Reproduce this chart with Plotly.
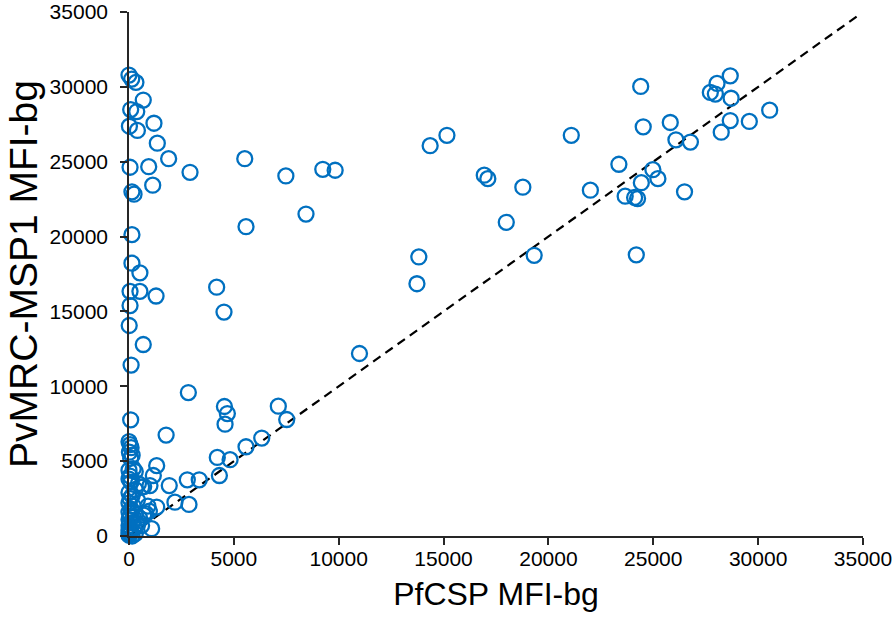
import plotly.graph_objects as go

# PfCSP MFI-bg (x) and PvMRC-MSP1 MFI-bg (y)
pf_upper_left = [0, 130, 330, 680, 80, 370, 1190, 20, 400, 1350, 1890, 5520, 50, 940, 2910,
                 7480, 1130, 140, 240, 8440, 5580, 140, 140, 520, 4180, 50, 520, 1290, 4530,
                 50, 10, 680, 100]
pv_upper_left = [30790, 30520, 30300, 29120, 28480, 28350, 27570, 27370, 27090, 26240, 25200,
                 25200, 24630, 24670, 24290, 24050, 23430, 22990, 22830, 21500, 20660, 20130,
                 18220, 17580, 16620, 16340, 16340, 16030, 14960, 15390, 14060, 12790, 11420]

pf_middle = [9240, 9830, 14360, 15160, 16940, 17110, 18780, 17990, 21090, 13820, 13730, 19320, 10990]
pv_middle = [24490, 24430, 26070, 26760, 24100, 23870, 23300, 20950, 26760, 18640, 16850, 18750, 12190]

pf_upper_right = [24400, 28670, 28040, 27720, 27960, 28710, 24520, 25810, 28670, 29580, 30550,
                  28240, 26080, 26770, 23360, 24980, 25220, 24430, 22000, 23660, 24110, 24250,
                  26490, 24190]
pv_upper_right = [30030, 30740, 30230, 29630, 29520, 29240, 27330, 27620, 27750, 27690, 28440,
                  26970, 26460, 26310, 24830, 24470, 23870, 23600, 23100, 22700, 22610, 22540,
                  22990, 18780]

pf_lower = [2830, 4550, 4690, 4580, 7120, 7520, 80, 1770, 6330, 5580, 4210, 4820, 4310, 2780,
            3350, 1920, 2190, 2860, 1320, 1160, 1000, 600, 1320, 970, 1080]
pv_lower = [9580, 8650, 8180, 7470, 8670, 7780, 7760, 6740, 6540, 5960, 5250, 5100, 4040, 3750,
            3750, 3370, 2260, 2110, 4700, 4040, 3370, 3260, 1930, 1660, 490]

pf_origin = [0, 50, 100, 20, 150, 80, 0, 200, 300, 50, 0, 100, 450, 700, 300, 0, 150, 50, 400,
             0, 200, 100, 0, 300, 700, 50, 0, 150, 400, 0, 250, 50, 0, 100, 0, 300, 50, 0, 150,
             600, 800, 900, 500, 200]
pv_origin = [6300, 6100, 5900, 5600, 5400, 5200, 4400, 4500, 4300, 4000, 3800, 3600, 3500, 3300,
             3100, 2900, 2700, 2500, 2400, 2200, 2000, 1800, 1600, 1500, 1400, 1300, 1100, 900,
             800, 700, 600, 500, 400, 300, 200, 150, 100, 50, 0, 700, 1500, 2000, 1200, 1300]

pfcsp = pf_upper_left + pf_middle + pf_upper_right + pf_lower + pf_origin
pvmsp1 = pv_upper_left + pv_middle + pv_upper_right + pv_lower + pv_origin

line_x = [0, 34700]
line_y = [0, 34700]

axis_ticks = [0, 5000, 10000, 15000, 20000, 25000, 30000, 35000]
axis_range = [0, 35000]

font_family = "Arial, Liberation Sans, sans-serif"

fig = go.Figure()
fig.add_trace(go.Scatter(
    x=line_x, y=line_y, mode="lines",
    line=dict(color="black", width=2.2, dash="9px,6px"),
    hoverinfo="skip", showlegend=False, cliponaxis=False,
))
fig.add_trace(go.Scatter(
    x=pfcsp, y=pvmsp1, mode="markers",
    marker=dict(symbol="circle-open", size=15, color="#0070C0",
                line=dict(width=2.3, color="#0070C0")),
    showlegend=False, cliponaxis=False,
))

axis_common = dict(
    range=axis_range, tickvals=axis_ticks, ticktext=[str(v) for v in axis_ticks],
    showgrid=False, zeroline=False, showline=True, linecolor="#262626", linewidth=1.6,
    ticks="outside", ticklen=7, tickwidth=1.6, tickcolor="#262626",
    tickfont=dict(family=font_family, size=21, color="black"),
    automargin=False, ticklabeloverflow="allow",
)

fig.update_layout(
    width=893, height=633,
    margin=dict(l=129, r=30, t=12, b=97),
    paper_bgcolor="white", plot_bgcolor="white",
    xaxis=dict(**axis_common, ticklabelstandoff=-4,
               title=dict(text="PfCSP MFI-bg", font=dict(family=font_family, size=32, color="black"),
                          standoff=14)),
    yaxis=dict(**axis_common, ticklabelstandoff=8,
               title=dict(text="PvMRC-MSP1 MFI-bg", font=dict(family=font_family, size=39, color="black"),
                          standoff=0)),
)

# remove the page's default body margin so the figure fills the window
fig.write_html("out.html", config={"displayModeBar": False},
               post_script="document.body.style.margin='0';")
